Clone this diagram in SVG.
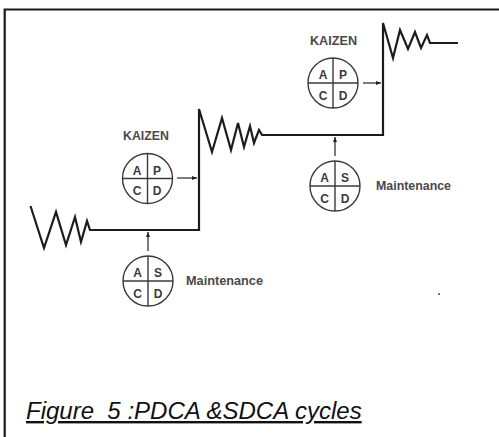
<svg xmlns="http://www.w3.org/2000/svg" width="499" height="437" viewBox="0 0 499 437">
<defs>
<style>
.stair{fill:none;stroke:#1c1c1c;stroke-width:2.2;stroke-linejoin:miter;stroke-linecap:butt}
.ring{fill:#fff;stroke:#3a3a3a;stroke-width:1.4}
.cross{stroke:#3a3a3a;stroke-width:1.4}
.arw{stroke:#333;stroke-width:1.3;fill:none}
.ltr{font-family:"Liberation Sans",Arial,sans-serif;font-size:12px;fill:#3a3a3a;text-anchor:middle;font-weight:bold}
.lbl{font-family:"Liberation Sans",Arial,sans-serif;font-size:12px;fill:#4a4a4a;font-weight:bold}
.cap{font-family:"Liberation Sans",Arial,sans-serif;font-size:24px;font-style:italic;fill:#111;white-space:pre}
</style>
<marker id="ah" viewBox="0 0 10 10" refX="10" refY="5" markerWidth="5" markerHeight="5" orient="auto" markerUnits="userSpaceOnUse">
<path d="M0,1 L10,5 L0,9 Z" fill="#222"/>
</marker>
</defs>
<rect x="0" y="0" width="499" height="437" fill="#fff"/>
<path d="M4.7,437 V9.5 H499" fill="none" stroke="#1a1a1a" stroke-width="2.2"/>
<g id="connectors">
<path class="stair" d="M30.5,206 L44,248 L56,212 L66,245 L75,217 L81,242 L87,221 L90,230 L199,230 L199,109 L212,152 L222,118 L231,150 L238,123 L244,147 L250,126 L254,143 L259,130 L262,135 L383,135 L383,23 L393,58 L400,30 L408,49 L415,32 L421,48 L427,35 L430,43 L458,43"/>
<line class="arw" x1="177" y1="178" x2="197" y2="178" marker-end="url(#ah)"/>
<line class="arw" x1="148" y1="251" x2="148" y2="232" marker-end="url(#ah)"/>
<line class="arw" x1="363" y1="83" x2="381" y2="83" marker-end="url(#ah)"/>
<line class="arw" x1="335" y1="156" x2="335" y2="137" marker-end="url(#ah)"/>
</g>
<g id="kaizen1">
<text class="lbl" x="146" y="139.5" text-anchor="middle" textLength="46" lengthAdjust="spacingAndGlyphs">KAIZEN</text>
<circle class="ring" cx="147.5" cy="178.5" r="25"/>
<line class="cross" x1="122.5" y1="178.5" x2="172.5" y2="178.5"/>
<line class="cross" x1="147.5" y1="153.5" x2="147.5" y2="203.5"/>
<text class="ltr" x="137" y="174.5">A</text>
<text class="ltr" x="157" y="174.5">P</text>
<text class="ltr" x="137" y="195">C</text>
<text class="ltr" x="157" y="195">D</text>
</g>
<g id="maintenance1">
<circle class="ring" cx="148" cy="281" r="25"/>
<line class="cross" x1="123" y1="281" x2="173" y2="281"/>
<line class="cross" x1="148" y1="256" x2="148" y2="306"/>
<text class="ltr" x="137.5" y="277">A</text>
<text class="ltr" x="158" y="277">S</text>
<text class="ltr" x="137.5" y="297.5">C</text>
<text class="ltr" x="158" y="297.5">D</text>
<text class="lbl" x="186" y="285" textLength="77" lengthAdjust="spacingAndGlyphs">Maintenance</text>
</g>
<g id="kaizen2">
<text class="lbl" x="333.5" y="44.5" text-anchor="middle" textLength="47" lengthAdjust="spacingAndGlyphs">KAIZEN</text>
<circle class="ring" cx="333" cy="83" r="25"/>
<line class="cross" x1="308" y1="83" x2="358" y2="83"/>
<line class="cross" x1="333" y1="58" x2="333" y2="108"/>
<text class="ltr" x="323" y="79">A</text>
<text class="ltr" x="343" y="79">P</text>
<text class="ltr" x="323" y="99.5">C</text>
<text class="ltr" x="343" y="99.5">D</text>
</g>
<g id="maintenance2">
<circle class="ring" cx="335" cy="186" r="25"/>
<line class="cross" x1="310" y1="186" x2="360" y2="186"/>
<line class="cross" x1="335" y1="161" x2="335" y2="211"/>
<text class="ltr" x="324.5" y="182">A</text>
<text class="ltr" x="345" y="182">S</text>
<text class="ltr" x="324.5" y="202.5">C</text>
<text class="ltr" x="345" y="202.5">D</text>
<text class="lbl" x="376" y="190" textLength="75" lengthAdjust="spacingAndGlyphs">Maintenance</text>
</g>
<circle cx="439" cy="294" r="1.1" fill="#555"/>
<text class="cap" x="26" y="419" text-decoration="underline" xml:space="preserve">Figure  5 :PDCA &amp;SDCA cycles</text>
</svg>
